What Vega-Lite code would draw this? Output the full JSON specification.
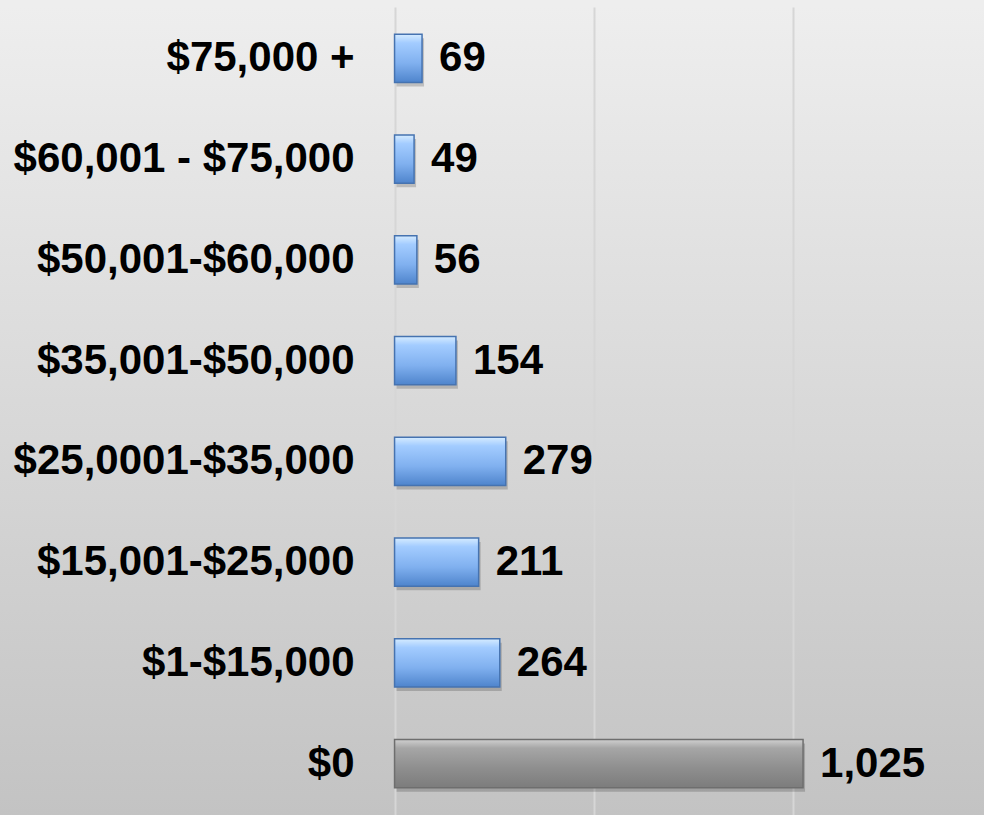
{
  "$schema": "https://vega.github.io/schema/vega-lite/v6.json",
  "autosize": {"type": "fit", "contains": "padding"},
  "width": 984,
  "height": 815,
  "padding": {"left": 0, "right": 0, "top": 7, "bottom": 0},
  "background": "#eeeeee",
  "config": {
    "view": {
      "stroke": null,
      "fill": {"gradient": "linear", "x1": 0, "y1": 0, "x2": 0, "y2": 1, "stops": [{"offset": 0, "color": "#eeeeee"}, {"offset": 1, "color": "#c3c3c3"}]}
    },
    "font": "Liberation Sans"
  },
  "data": {
    "values": [
      {"cat": "$75,000 +", "value": 69},
      {"cat": "$60,001 - $75,000", "value": 49},
      {"cat": "$50,001-$60,000", "value": 56},
      {"cat": "$35,001-$50,000", "value": 154},
      {"cat": "$25,0001-$35,000", "value": 279},
      {"cat": "$15,001-$25,000", "value": 211},
      {"cat": "$1-$15,000", "value": 264},
      {"cat": "$0", "value": 1025}
    ]
  },
  "encoding": {
    "y": {
      "field": "cat",
      "type": "nominal",
      "sort": null,
      "axis": null,
      "scale": {"paddingInner": 0.52, "paddingOuter": 0.27}
    }
  },
  "layer": [
    {
      "mark": {"type": "bar", "color": "#000000", "opacity": 0.18, "xOffset": 2, "yOffset": 4},
      "encoding": {
        "x": {
          "field": "value",
          "type": "quantitative",
          "scale": {"domain": [-990, 1479], "nice": false, "zero": false},
          "axis": {"values": [0, 500, 1000], "grid": true, "gridColor": "#d6d6d6", "gridWidth": 2, "labels": false, "ticks": false, "domain": false, "title": null}
        }
      }
    },
    {
      "mark": {"type": "bar", "strokeWidth": 1.5},
      "encoding": {
        "x": {"field": "value", "type": "quantitative"},
        "fill": {
          "condition": {
            "test": "datum.cat === '$0'",
            "value": {"gradient": "linear", "x1": 0, "y1": 0, "x2": 0, "y2": 1, "stops": [
              {"offset": 0, "color": "#d0d0d0"},
              {"offset": 0.18, "color": "#a6a6a6"},
              {"offset": 0.6, "color": "#8e8e8e"},
              {"offset": 1, "color": "#7c7c7c"}
            ]}
          },
          "value": {"gradient": "linear", "x1": 0, "y1": 0, "x2": 0, "y2": 1, "stops": [
            {"offset": 0, "color": "#d6ecff"},
            {"offset": 0.18, "color": "#a3ccff"},
            {"offset": 0.6, "color": "#80b0ef"},
            {"offset": 1, "color": "#4e84cc"}
          ]}
        },
        "stroke": {
          "condition": {"test": "datum.cat === '$0'", "value": "#6e6e6e"},
          "value": "#4673b0"
        }
      }
    },
    {
      "mark": {"type": "text", "align": "left", "baseline": "middle", "dx": 17, "fontSize": 42, "fontWeight": "bold", "color": "#000000"},
      "encoding": {
        "x": {"field": "value", "type": "quantitative"},
        "text": {"field": "value", "type": "quantitative", "format": ","}
      }
    },
    {
      "mark": {"type": "text", "align": "right", "baseline": "middle", "dx": -40, "fontSize": 42, "fontWeight": "bold", "color": "#000000"},
      "encoding": {
        "x": {"datum": 0, "type": "quantitative"},
        "text": {"field": "cat", "type": "nominal"}
      }
    }
  ]
}
